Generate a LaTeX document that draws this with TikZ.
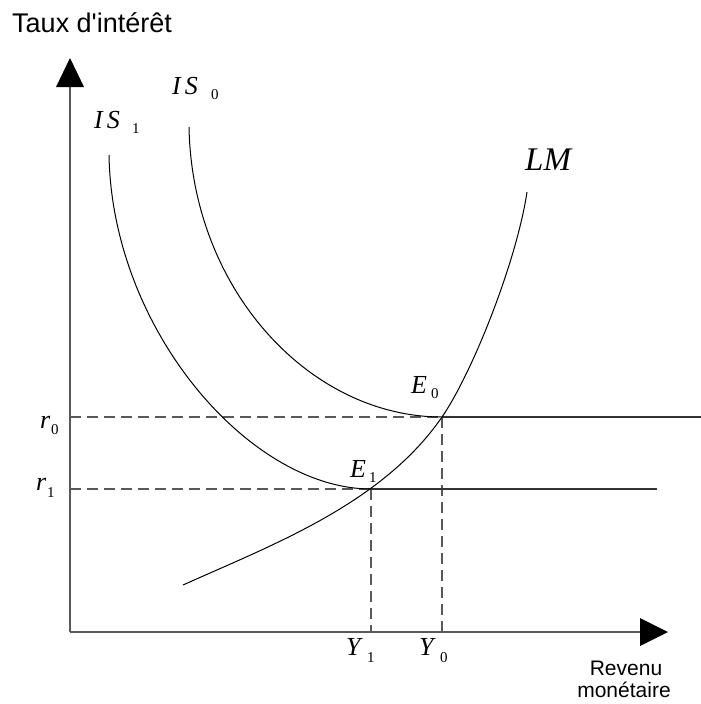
\documentclass[tikz,border=0pt]{standalone}
\usepackage{fontspec}
\setmainfont{Liberation Serif}
\newfontfamily\sansf{Liberation Sans}
\begin{document}
\begin{tikzpicture}[x=1pt,y=-1pt,
  axisline/.style={draw=black!65, line width=1.5pt},
  tipfill/.style={fill=black},
  curveline/.style={draw=black, line width=1pt},
  guide/.style={draw=black!65, line width=1.2pt, dash pattern=on 11pt off 6pt},
  flatline/.style={draw=black!80, line width=1.2pt},
  axtext/.style={font=\sansf\fontsize{21}{23}\selectfont, inner sep=0pt, anchor=base},
  mlab/.style={font=\fontsize{26}{26}\selectfont\itshape, inner sep=0pt, anchor=base west},
  sublab/.style={font=\fontsize{15}{15}\selectfont, inner sep=0pt, anchor=base west}]
\useasboundingbox (0,0) rectangle (701,704);
% coordinates
\coordinate (O) at (70,632);
\coordinate (ytop) at (70,87);
\coordinate (ytip) at (70,58);
\coordinate (xend) at (640,632);
\coordinate (xtip) at (668,632);
\coordinate (E0) at (442,417);
\coordinate (E1) at (371,489);
\coordinate (R0) at (70,417);
\coordinate (R1) at (70,489);
\coordinate (Y0) at (442,632);
\coordinate (Y1) at (371,632);
\coordinate (H0) at (701,417);
\coordinate (H1) at (657,489);
\coordinate (IS0top) at (189,127);
\coordinate (IS1top) at (109,155);
\coordinate (LMlow) at (183,585);
\coordinate (LMtop) at (527,192);
% axes
\draw[axisline] (O) -- (ytop);
\draw[axisline] (O) -- (xend);
\fill[tipfill] (ytip) -- (56,87) -- (84,87) -- cycle;
\fill[tipfill] (xtip) -- (640,618) -- (640,646) -- cycle;
% guides
\draw[guide] (R0) -- (E0);
\draw[guide] (R1) -- (E1);
\draw[guide] (E0) -- (Y0);
\draw[guide] (E1) -- (Y1);
% flat parts
\draw[flatline] (E0) -- (H0);
\draw[flatline] (E1) -- (H1);
% curves
\draw[curveline] (IS0top) .. controls (192,290) and (310,417) .. (E0);
\draw[curveline] (IS1top) .. controls (112,330) and (250,489) .. (E1);
\draw[curveline] (LMlow) .. controls (273,544.5) and (382,504) .. (E0)
                         .. controls (472,373.5) and (516.5,262) .. (LMtop);
% texts
\node[anchor=base west, inner sep=0pt, font=\sansf\fontsize{27}{30}\selectfont] (tyaxis) at (12,32) {Taux d'intérêt};
\node[axtext] (txaxis1) at (626,675) {Revenu};
\node[axtext] (txaxis2) at (624,697) {monétaire};
\node[mlab] (is0) at (172,94) {I\hspace{4pt}S};
\node[sublab] (is0s) at (211,99) {0};
\node[mlab] (is1) at (94,128) {I\hspace{4pt}S};
\node[sublab] (is1s) at (132,133) {1};
\node[mlab, font=\fontsize{33}{33}\selectfont\itshape] (lm) at (525,170) {LM};
\node[mlab] (e0) at (411,393) {E};
\node[sublab] (e0s) at (431,398) {0};
\node[mlab] (e1) at (350,477) {E};
\node[sublab] (e1s) at (369,482) {1};
\node[mlab] (r0) at (40,428) {r};
\node[sublab] (r0s) at (51,434) {0};
\node[mlab] (r1) at (36,490) {r};
\node[sublab] (r1s) at (47,497) {1};
\node[mlab] (y1) at (346,655) {Y};
\node[sublab] (y1s) at (367,662) {1};
\node[mlab] (y0) at (419,655) {Y};
\node[sublab] (y0s) at (440,662) {0};
\end{tikzpicture}
\end{document}
